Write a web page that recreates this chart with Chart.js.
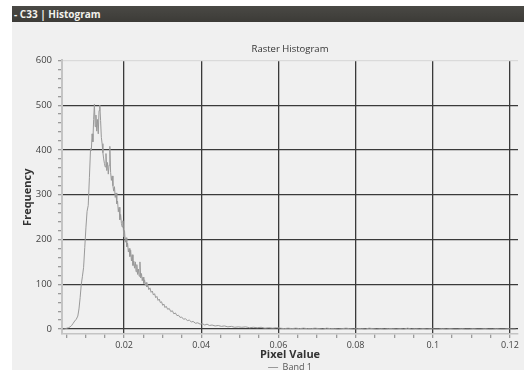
<!DOCTYPE html>
<html>
<head>
<meta charset="utf-8">
<script src="https://cdn.jsdelivr.net/npm/chart.js@4.4.1/dist/chart.umd.min.js"></script>
<style>
  html, body { margin: 0; padding: 0; background: #fff; width: 524px; height: 370px; overflow: hidden; }
  #bar { position: absolute; left: 12px; top: 6px; width: 512px; height: 16px;
         background: linear-gradient(#4a4945, #3c3b37); color: #f2f1ec;
         font: bold 10px "Open Sans", sans-serif; line-height: 16px; padding-left: 2px; box-sizing: border-box; }
  #panel { position: absolute; left: 12px; top: 22px; width: 512px; height: 348px; background: #f0f0f0; overflow: hidden; }
  #wrap { position: absolute; left: 0; top: 0; width: 512px; height: 360px; }
</style>
</head>
<body>
<div id="bar">- C33 | Histogram</div>
<div id="panel"><div id="wrap"><canvas id="chart-area"></canvas></div></div>
<script>
// histogram bins
var pixelValue = [
  0.0040, 0.0044, 0.0048, 0.0052, 0.0056, 0.0060, 0.0064, 0.0068, 0.0072, 0.0076,
  0.0080, 0.0083, 0.0086, 0.0089, 0.0092, 0.0095, 0.0098, 0.0101, 0.0104, 0.0107,
  0.0110, 0.0113, 0.0115, 0.0117, 0.0119, 0.0121, 0.0123, 0.0125, 0.0127, 0.0129,
  0.0131, 0.0133, 0.0135, 0.0137, 0.0139, 0.0141, 0.0143, 0.0145, 0.0147, 0.0149,
  0.0151, 0.0153, 0.0155, 0.0157, 0.0159, 0.0161, 0.0163, 0.0165, 0.0167, 0.0169,
  0.0171, 0.0173, 0.0175, 0.0177, 0.0179, 0.0181, 0.0183, 0.0185, 0.0187, 0.0189,
  0.0191, 0.0193, 0.0195, 0.0197, 0.0199, 0.0201, 0.0203, 0.0205, 0.0207, 0.0209,
  0.0211, 0.0213, 0.0215, 0.0217, 0.0219, 0.0221, 0.0223, 0.0225, 0.0227, 0.0229,
  0.0231, 0.0233, 0.0235, 0.0237, 0.0239, 0.0241, 0.0243, 0.0245, 0.0247, 0.0249,
  0.0251, 0.0253, 0.0255, 0.0257, 0.0259, 0.0261, 0.0264, 0.0267, 0.0270, 0.0273,
  0.0276, 0.0279, 0.0282, 0.0285, 0.0288, 0.0291, 0.0294, 0.0297, 0.0300, 0.0303,
  0.0306, 0.0309, 0.0313, 0.0317, 0.0321, 0.0325, 0.0329, 0.0333, 0.0337, 0.0341,
  0.0345, 0.0349, 0.0354, 0.0359, 0.0364, 0.0369, 0.0374, 0.0379, 0.0385, 0.0391,
  0.0397, 0.0403, 0.0409, 0.0415, 0.0421, 0.0428, 0.0436, 0.0444, 0.0452, 0.0460,
  0.0469, 0.0478, 0.0487, 0.0496, 0.0505, 0.0515, 0.0525, 0.0535, 0.0545, 0.0555,
  0.0565, 0.0575, 0.0585, 0.0595, 0.0605, 0.0615, 0.0625, 0.0635, 0.0645, 0.0655,
  0.0665, 0.0675, 0.0685, 0.0695, 0.0705, 0.0715, 0.0725, 0.0735, 0.0745, 0.0755,
  0.0765, 0.0775, 0.0785, 0.0795, 0.0805, 0.0815, 0.0825, 0.0835, 0.0845, 0.0855,
  0.0865, 0.0875, 0.0885, 0.0895, 0.0905, 0.0915, 0.0925, 0.0935, 0.0945, 0.0955,
  0.0965, 0.0975, 0.0985, 0.0995, 0.1005, 0.1015, 0.1025, 0.1035, 0.1045, 0.1055,
  0.1065, 0.1075, 0.1085, 0.1095, 0.1105, 0.1115, 0.1125, 0.1135, 0.1145, 0.1155,
  0.1165, 0.1175, 0.1185, 0.1195, 0.1205, 0.1215
];
var band1 = [
  0, 0, 1, 2, 3, 5, 8, 13, 18, 22,
  29, 45, 70, 100, 118, 138, 182, 226, 263, 276,
  338, 403, 398, 436, 418, 468, 502, 452, 478, 442,
  468, 436, 488, 500, 466, 428, 414, 394, 380, 370,
  362, 392, 354, 372, 346, 366, 408, 350, 332, 342,
  320, 308, 318, 294, 304, 280, 286, 262, 272, 244,
  256, 236, 228, 242, 206, 220, 194, 204, 184, 192,
  172, 180, 162, 176, 152, 166, 142, 152, 136, 150,
  128, 144, 122, 134, 118, 150, 114, 124, 108, 116,
  102, 110, 98, 104, 94, 100, 88, 92, 82, 85,
  76, 79, 70, 73, 64, 67, 59, 61, 53, 56,
  48, 51, 44, 46, 39, 41, 34, 36, 30, 31,
  26, 27, 22, 23, 19, 20, 16, 17, 13, 14,
  11, 12, 9, 11, 8, 9, 7, 8, 6, 7,
  5, 6, 4, 5, 4, 5, 3, 4, 3, 4,
  2, 3, 2, 3, 2, 1, 2, 1, 2, 1,
  2, 1, 1, 2, 1, 0, 2, 1, 1, 0,
  1, 2, 1, 0, 1, 1, 0, 2, 1, 0,
  1, 0, 1, 1, 0, 1, 0, 2, 0, 1,
  0, 1, 0, 1, 0, 0, 1, 0, 1, 0,
  0, 1, 0, 0, 1, 0, 0, 1, 0, 0,
  1, 0, 0, 1, 0, 0
];

var xTicks = [0.005, 0.01, 0.015, 0.02, 0.025, 0.03, 0.035, 0.04, 0.045, 0.05, 0.055, 0.06,
              0.065, 0.07, 0.075, 0.08, 0.085, 0.09, 0.095, 0.1, 0.105, 0.11, 0.115, 0.12];
var xLabels = { '0.02': '0.02', '0.04': '0.04', '0.06': '0.06', '0.08': '0.08', '0.1': '0.1', '0.12': '0.12' };
var yTicks = [0, 20, 40, 60, 80, 100, 120, 140, 160, 180, 200, 220, 240, 260, 280, 300,
              320, 340, 360, 380, 400, 420, 440, 460, 480, 500, 520, 540, 560, 580, 600];
var yLabels = { 0: '0', 100: '100', 200: '200', 300: '300', 400: '400', 500: '500', 600: '600' };

function key(v) { return String(Math.round(v * 1000) / 1000); }

var fam = '"Open Sans", "Noto Sans", sans-serif';

var ctx = document.getElementById('chart-area').getContext('2d');
window.myHist = new Chart(ctx, {
  type: 'line',
  data: {
    datasets: [{
      label: 'Band 1',
      data: pixelValue.map(function (v, i) { return { x: v, y: band1[i] }; }),
      borderColor: '#999999',
      backgroundColor: '#999999',
      borderWidth: 1,
      pointRadius: 0,
      tension: 0,
      fill: false
    }]
  },
  options: {
    responsive: true,
    maintainAspectRatio: false,
    animation: false,
    layout: { padding: { left: 0, right: 6, top: 0, bottom: 0 } },
    plugins: {
      title: {
        display: true, text: 'Raster Histogram', fullSize: false,
        color: '#333', font: { family: fam, size: 9.5, weight: 'normal', lineHeight: 1.2 },
        padding: { top: 22, bottom: 5 }
      },
      legend: {
        position: 'bottom', fullSize: false,
        labels: { usePointStyle: true, pointStyle: 'line', pointStyleWidth: 10, boxHeight: 9, padding: 2,
                  color: '#555', font: { family: fam, size: 9 } }
      },
      tooltip: { enabled: false }
    },
    scales: {
      x: {
        type: 'linear', min: 0.0039, max: 0.1221,
        afterBuildTicks: function (s) { s.ticks = xTicks.map(function (v) { return { value: v }; }); },
        afterFit: function (s) { s.height = 27; },
        ticks: { autoSkip: false, maxRotation: 0, padding: 2.5, color: '#444',
                 font: { family: fam, size: 9, lineHeight: 1 },
                 callback: function (v) { return xLabels[key(v)] || ''; } },
        grid: {
          tickLength: 4,
          color: function (c) { return c.tick && xLabels[key(c.tick.value)] ? '#3a3a3a' : 'rgba(0,0,0,0)'; },
          lineWidth: 1.3,
          tickColor: '#9a9a9a'
        },
        border: { display: true, color: '#c4c4c4', width: 1.5 },
        title: { display: true, text: 'Pixel Value', color: '#333',
                 font: { family: fam, size: 11, weight: 'bold', lineHeight: 1 },
                 padding: { top: 0, bottom: 0.5 } }
      },
      y: {
        min: -11, max: 600,
        afterBuildTicks: function (s) { s.ticks = yTicks.map(function (v) { return { value: v }; }); },
        afterFit: function (s) { s.width = 50; },
        ticks: { autoSkip: false, padding: 6, color: '#444',
                 font: { family: fam, size: 9.5 },
                 callback: function (v) { return yLabels[v] || ''; } },
        grid: {
          tickLength: 4,
          color: function (c) {
            if (!c.tick) return 'rgba(0,0,0,0)';
            if (c.tick.value === 600) return '#dadada';
            return yLabels[c.tick.value] ? '#3a3a3a' : 'rgba(0,0,0,0)';
          },
          lineWidth: 1.3,
          tickColor: '#9a9a9a'
        },
        border: { display: true, color: '#c4c4c4', width: 2 },
        title: { display: true, text: 'Frequency', color: '#333',
                 font: { family: fam, size: 11, weight: 'bold', lineHeight: 1 },
                 padding: { top: 10.5, bottom: 0 } }
      }
    }
  }
});
</script>
</body>
</html>
